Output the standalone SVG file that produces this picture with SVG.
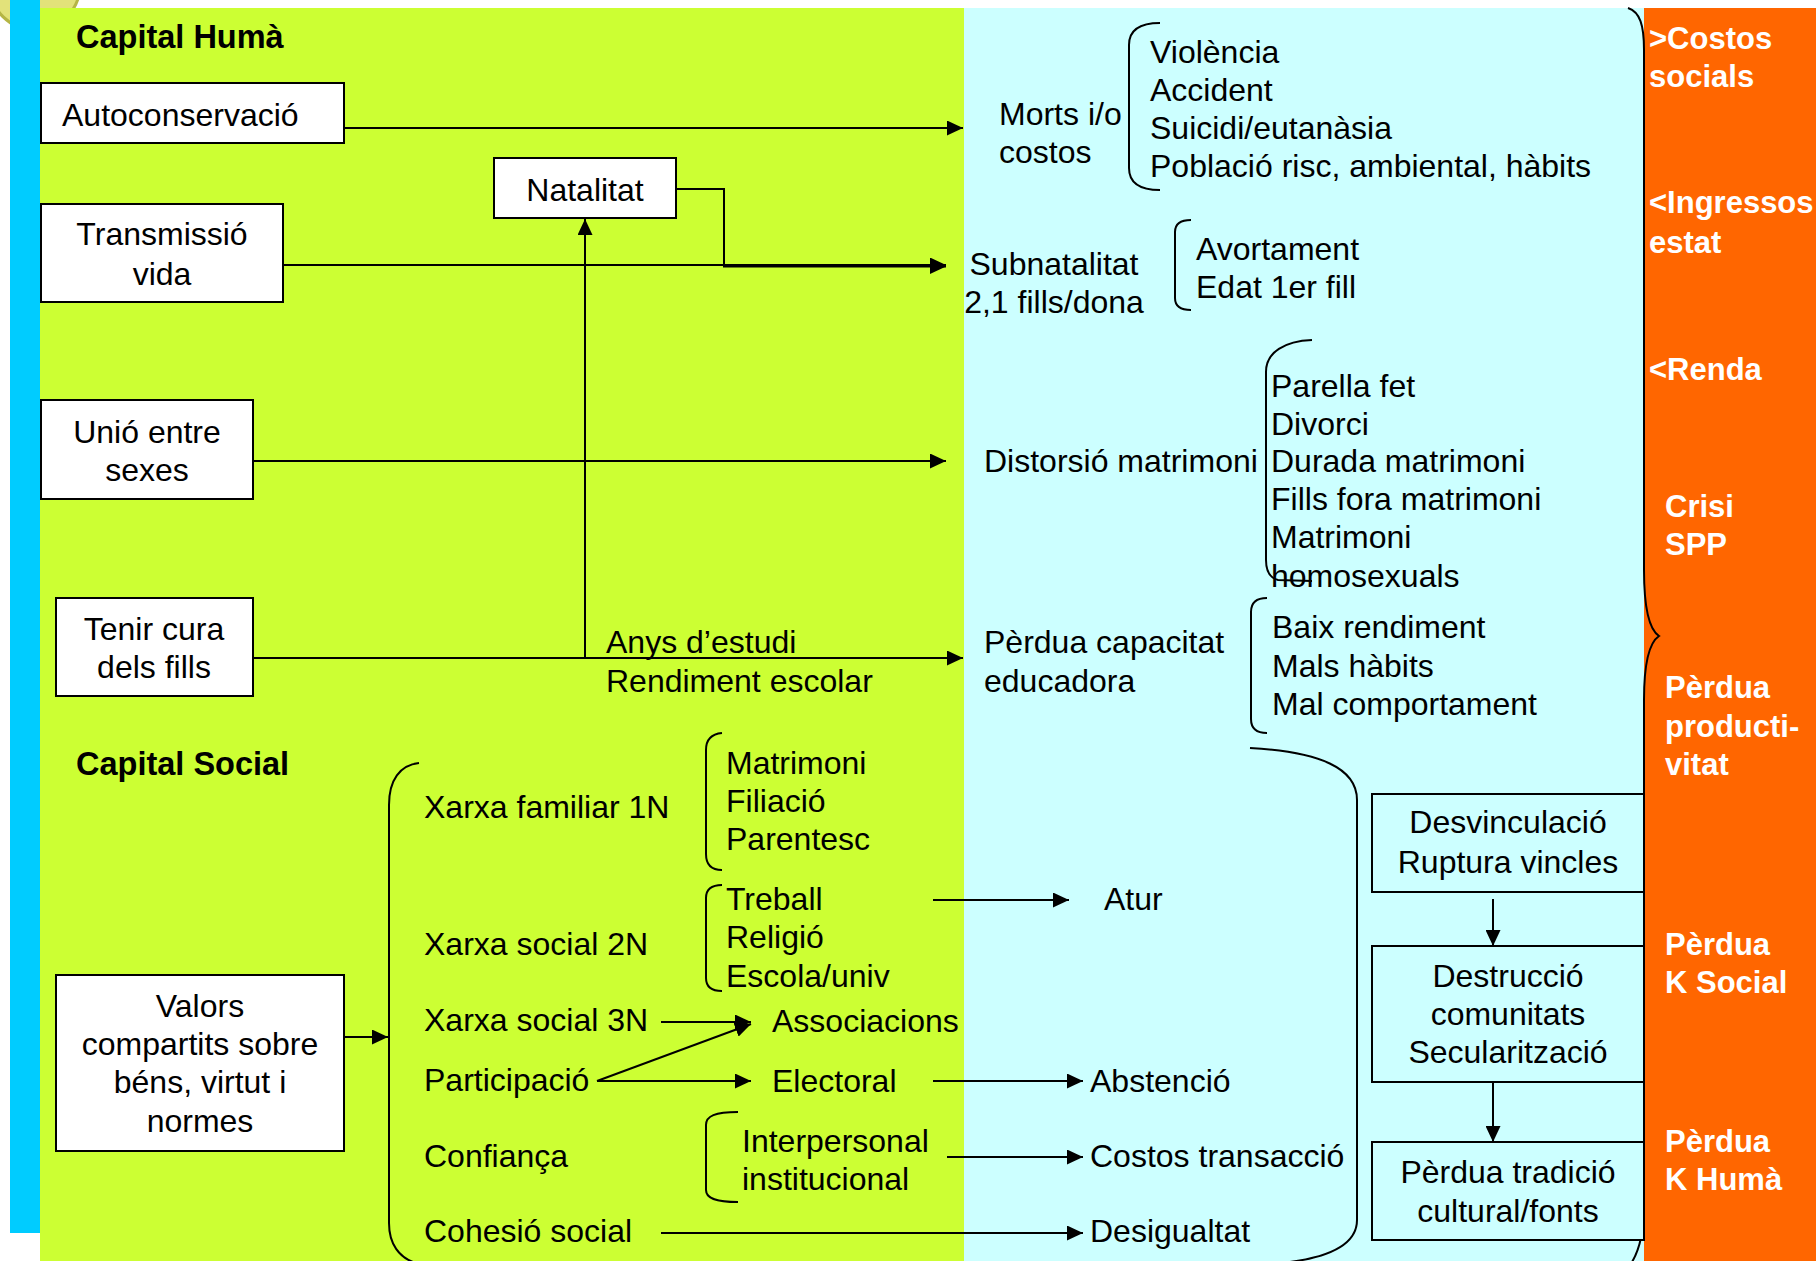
<svg xmlns="http://www.w3.org/2000/svg" width="1816" height="1261" viewBox="0 0 1816 1261">
<style>
.t{font-family:"Liberation Sans",Arial,sans-serif;font-size:32px;fill:#000}
.m{text-anchor:middle}
.b{font-family:"Liberation Sans",Arial,sans-serif;font-size:32.5px;font-weight:bold;fill:#000}
.w{font-family:"Liberation Sans",Arial,sans-serif;font-size:31px;font-weight:bold;fill:#fff}
.box{fill:#fff;stroke:#000;stroke-width:2}
.cbox{fill:#ccffff;stroke:#000;stroke-width:2}
.ln{fill:none;stroke:#000;stroke-width:2}
.ar{fill:none;stroke:#000;stroke-width:2;marker-end:url(#ah)}
.br{fill:none;stroke:#000;stroke-width:2}
</style>
<defs>
<marker id="ah" markerUnits="userSpaceOnUse" markerWidth="16" markerHeight="15" refX="16" refY="7.5" orient="auto">
<path d="M0,0 L16,7.5 L0,15 z" fill="#000"/>
</marker>
</defs>
<g id="background">
<rect x="0" y="0" width="1816" height="1261" fill="#fff"/>
<circle cx="35" cy="-15" r="45" fill="#e2e27a" stroke="#b5b545" stroke-width="3"/>
<rect x="10" y="0" width="30" height="1233" fill="#00ccff"/>
<rect x="40" y="8" width="924" height="1253" fill="#ccff33"/>
<rect x="964" y="8" width="680" height="1253" fill="#ccffff"/>
<rect x="1644" y="8" width="172" height="1253" fill="#ff6600"/>
</g>
<g id="connectors">
<line class="ar" x1="344" y1="128" x2="963" y2="128"/>
<line class="ar" x1="283" y1="265" x2="946" y2="265"/>
<path class="ar" d="M676,189 H724 V266.5 H946"/>
<line class="ar" x1="253" y1="461" x2="946" y2="461"/>
<line class="ar" x1="253" y1="658" x2="963" y2="658"/>
<line class="ar" x1="585" y1="658" x2="585" y2="219"/>
<line class="ar" x1="344" y1="1037" x2="388" y2="1037"/>
<line class="ar" x1="933" y1="900" x2="1069" y2="900"/>
<line class="ar" x1="661" y1="1022" x2="751" y2="1022"/>
<line class="ar" x1="597" y1="1081" x2="751" y2="1024"/>
<line class="ar" x1="597" y1="1081" x2="751" y2="1081"/>
<line class="ar" x1="933" y1="1081" x2="1083" y2="1081"/>
<line class="ar" x1="947" y1="1157" x2="1083" y2="1157"/>
<line class="ar" x1="661" y1="1233" x2="1083" y2="1233"/>
<line class="ar" x1="1493" y1="899" x2="1493" y2="946"/>
<line class="ar" x1="1493" y1="1082" x2="1493" y2="1142"/>
</g>
<g id="braces">
<path class="br" d="M1160,23 C1140,23 1129,30 1129,45 V168 C1129,183 1140,190 1160,190"/>
<path class="br" d="M1191,220 C1180,220 1175,224 1175,232 V298 C1175,306 1180,310 1191,310"/>
<path class="br" d="M1312,340 C1285,341 1266,352 1266,372 V560 C1266,572 1270,578 1278,580 L1312,581"/>
<path class="br" d="M1267,598 C1256,598 1251,603 1251,612 V719 C1251,728 1256,733 1267,733"/>
<path class="br" d="M722,733 C711,734 706,740 706,750 V854 C706,864 711,870 722,870"/>
<path class="br" d="M722,885 C711,885 706,890 706,898 V978 C706,986 711,991 722,991"/>
<path class="br" d="M738,1112 C715,1112 706,1116 706,1125 V1190 C706,1198 715,1202 738,1202"/>
<path class="br" d="M419,763 C400,765 389,780 389,805 V1223 C389,1245 400,1257 413,1262"/>
<path class="br" d="M1250,748 C1320,752 1357,768 1357,800 V1220 C1357,1248 1320,1258 1290,1262"/>
<path class="br" d="M1628,8 C1640,12 1644,25 1644,50 V570 C1644,610 1650,630 1659,636 C1650,642 1644,660 1644,700 V1205 C1644,1235 1638,1252 1632,1262"/>
</g>
<g id="title-capital-huma"><text class="b" x="76" y="48">Capital Humà</text></g>
<g id="title-capital-social"><text class="b" x="76" y="775">Capital Social</text></g>
<g id="node-autoconservacio">
<rect class="box" x="41" y="83" width="303" height="60"/>
<text class="t" x="62" y="126">Autoconservació</text>
</g>
<g id="node-natalitat">
<rect class="box" x="494" y="158" width="182" height="60"/>
<text class="t m" x="585" y="201">Natalitat</text>
</g>
<g id="node-transmissio">
<rect class="box" x="41" y="204" width="242" height="98"/>
<text class="t m" x="162" y="245">Transmissió</text>
<text class="t m" x="162" y="285">vida</text>
</g>
<g id="node-unio">
<rect class="box" x="41" y="400" width="212" height="99"/>
<text class="t m" x="147" y="443">Unió entre</text>
<text class="t m" x="147" y="481">sexes</text>
</g>
<g id="node-tenir-cura">
<rect class="box" x="56" y="598" width="197" height="98"/>
<text class="t m" x="154" y="640">Tenir cura</text>
<text class="t m" x="154" y="678">dels fills</text>
</g>
<g id="node-valors">
<rect class="box" x="56" y="975" width="288" height="176"/>
<text class="t m" x="200" y="1017">Valors</text>
<text class="t m" x="200" y="1055">compartits sobre</text>
<text class="t m" x="200" y="1093">béns, virtut i</text>
<text class="t m" x="200" y="1132">normes</text>
</g>
<g id="node-morts">
<text class="t" x="999" y="125">Morts i/o</text>
<text class="t" x="999" y="163">costos</text>
</g>
<g id="node-morts-list">
<text class="t" x="1150" y="63">Violència</text>
<text class="t" x="1150" y="101">Accident</text>
<text class="t" x="1150" y="139">Suicidi/eutanàsia</text>
<text class="t" x="1150" y="177">Població risc, ambiental, hàbits</text>
</g>
<g id="node-subnatalitat">
<text class="t m" x="1054" y="275">Subnatalitat</text>
<text class="t m" x="1054" y="313">2,1 fills/dona</text>
</g>
<g id="node-subnatalitat-list">
<text class="t" x="1196" y="260">Avortament</text>
<text class="t" x="1196" y="298">Edat 1er fill</text>
</g>
<g id="node-distorsio"><text class="t" x="984" y="472">Distorsió matrimoni</text></g>
<g id="node-distorsio-list">
<text class="t" x="1271" y="397">Parella fet</text>
<text class="t" x="1271" y="435">Divorci</text>
<text class="t" x="1271" y="472">Durada matrimoni</text>
<text class="t" x="1271" y="510">Fills fora matrimoni</text>
<text class="t" x="1271" y="548">Matrimoni</text>
<text class="t" x="1271" y="587">homosexuals</text>
</g>
<g id="node-anys">
<text class="t" x="606" y="653">Anys d’estudi</text>
<text class="t" x="606" y="692">Rendiment escolar</text>
</g>
<g id="node-perdua-capacitat">
<text class="t" x="984" y="653">Pèrdua capacitat</text>
<text class="t" x="984" y="692">educadora</text>
</g>
<g id="node-perdua-capacitat-list">
<text class="t" x="1272" y="638">Baix rendiment</text>
<text class="t" x="1272" y="677">Mals hàbits</text>
<text class="t" x="1272" y="715">Mal comportament</text>
</g>
<g id="node-xarxes">
<text class="t" x="424" y="818">Xarxa familiar 1N</text>
<text class="t" x="424" y="955">Xarxa social 2N</text>
<text class="t" x="424" y="1031">Xarxa social 3N</text>
<text class="t" x="424" y="1091">Participació</text>
<text class="t" x="424" y="1167">Confiança</text>
<text class="t" x="424" y="1242">Cohesió social</text>
</g>
<g id="node-familia-list">
<text class="t" x="726" y="774">Matrimoni</text>
<text class="t" x="726" y="812">Filiació</text>
<text class="t" x="726" y="850">Parentesc</text>
</g>
<g id="node-social-list">
<text class="t" x="726" y="910">Treball</text>
<text class="t" x="726" y="948">Religió</text>
<text class="t" x="726" y="987">Escola/univ</text>
</g>
<g id="node-associacions"><text class="t" x="772" y="1032">Associacions</text></g>
<g id="node-electoral"><text class="t" x="772" y="1092">Electoral</text></g>
<g id="node-confianca-list">
<text class="t" x="742" y="1152">Interpersonal</text>
<text class="t" x="742" y="1190">institucional</text>
</g>
<g id="node-atur"><text class="t" x="1104" y="910">Atur</text></g>
<g id="node-abstencio"><text class="t" x="1090" y="1092">Abstenció</text></g>
<g id="node-costos-transaccio"><text class="t" x="1090" y="1167">Costos transacció</text></g>
<g id="node-desigualtat"><text class="t" x="1090" y="1242">Desigualtat</text></g>
<g id="node-desvinculacio">
<rect class="cbox" x="1372" y="794" width="272" height="98"/>
<text class="t m" x="1508" y="833">Desvinculació</text>
<text class="t m" x="1508" y="873">Ruptura vincles</text>
</g>
<g id="node-destruccio">
<rect class="cbox" x="1372" y="946" width="272" height="136"/>
<text class="t m" x="1508" y="987">Destrucció</text>
<text class="t m" x="1508" y="1025">comunitats</text>
<text class="t m" x="1508" y="1063">Secularització</text>
</g>
<g id="node-perdua-tradicio">
<rect class="cbox" x="1372" y="1142" width="272" height="98"/>
<text class="t m" x="1508" y="1183">Pèrdua tradició</text>
<text class="t m" x="1508" y="1222">cultural/fonts</text>
</g>
<g id="node-outcomes">
<text class="w" x="1649" y="49">&gt;Costos</text>
<text class="w" x="1649" y="87">socials</text>
<text class="w" x="1649" y="213">&lt;Ingressos</text>
<text class="w" x="1649" y="253">estat</text>
<text class="w" x="1649" y="380">&lt;Renda</text>
<text class="w" x="1665" y="517">Crisi</text>
<text class="w" x="1665" y="555">SPP</text>
<text class="w" x="1665" y="698">Pèrdua</text>
<text class="w" x="1665" y="737">producti-</text>
<text class="w" x="1665" y="775">vitat</text>
<text class="w" x="1665" y="955">Pèrdua</text>
<text class="w" x="1665" y="993">K Social</text>
<text class="w" x="1665" y="1152">Pèrdua</text>
<text class="w" x="1665" y="1190">K Humà</text>
</g>
</svg>
